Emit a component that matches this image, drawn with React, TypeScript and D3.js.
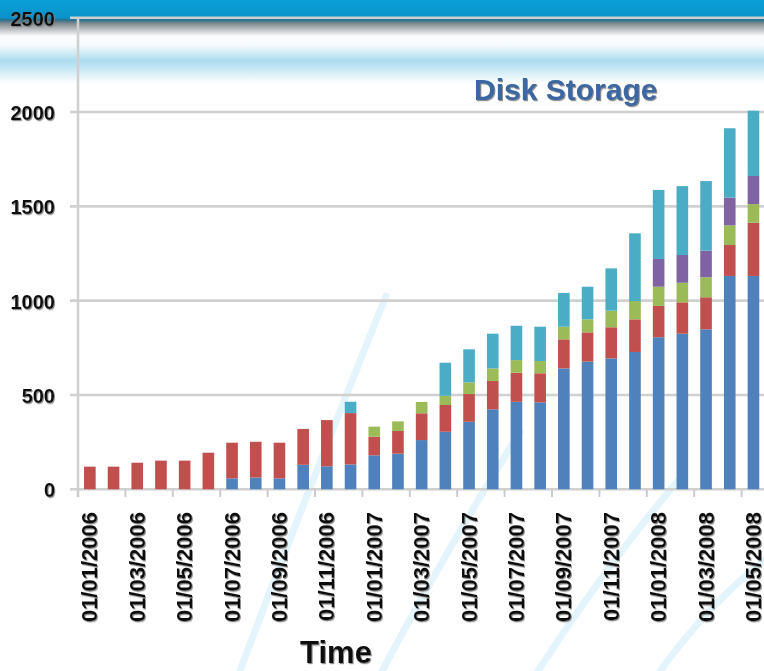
import React from "react";
import * as d3 from "d3";

// Monthly snapshot dates (dd/mm/yyyy)
const months = [
  "01/01/2006", "01/02/2006", "01/03/2006", "01/04/2006", "01/05/2006",
  "01/06/2006", "01/07/2006", "01/08/2006", "01/09/2006", "01/10/2006",
  "01/11/2006", "01/12/2006", "01/01/2007", "01/02/2007", "01/03/2007",
  "01/04/2007", "01/05/2007", "01/06/2007", "01/07/2007", "01/08/2007",
  "01/09/2007", "01/10/2007", "01/11/2007", "01/12/2007", "01/01/2008",
  "01/02/2008", "01/03/2008", "01/04/2008", "01/05/2008",
];

// Storage used per pool (stack order bottom → top)
const poolA = [0, 0, 0, 0, 0, 0, 58, 62, 58, 130, 122, 132, 180, 189, 261, 305, 358, 424, 464, 461, 641, 677, 694, 728, 806, 825, 848, 1131, 1131];
const poolB = [120, 120, 141, 152, 152, 194, 189, 190, 189, 190, 245, 272, 99, 120, 142, 142, 147, 150, 154, 154, 154, 155, 165, 173, 166, 166, 170, 164, 282];
const poolC = [0, 0, 0, 0, 0, 0, 0, 0, 0, 0, 0, 0, 53, 51, 60, 49, 62, 67, 67, 65, 67, 69, 88, 97, 102, 104, 106, 104, 99];
const poolD = [0, 0, 0, 0, 0, 0, 0, 0, 0, 0, 0, 0, 0, 0, 0, 0, 0, 0, 0, 0, 0, 0, 0, 0, 147, 147, 141, 147, 149];
const poolE = [0, 0, 0, 0, 0, 0, 0, 0, 0, 0, 0, 60, 0, 0, 0, 175, 175, 184, 182, 182, 179, 173, 224, 359, 366, 365, 369, 368, 346];

const seriesKeys = ["poolA", "poolB", "poolC", "poolD", "poolE"];
const seriesColors = ["#4F81BD", "#C0504D", "#9BBB59", "#8064A2", "#4BACC6"];

const yTicks = [0, 500, 1000, 1500, 2000, 2500];
const chartTitle = "Disk Storage";
const xTitle = "Time";

const W = 764;
const H = 671;

export default function App() {
  const table = months.map((m, i) => ({
    month: m,
    poolA: poolA[i],
    poolB: poolB[i],
    poolC: poolC[i],
    poolD: poolD[i],
    poolE: poolE[i],
  }));

  const stacked = d3.stack<any>().keys(seriesKeys)(table);

  const left = 78;
  const step = 23.7;
  const x = d3
    .scaleBand<string>()
    .domain(months)
    .range([left, left + step * months.length])
    .paddingInner(0.51)
    .paddingOuter(0.255);

  const y = d3.scaleLinear().domain([0, 2500]).range([489.3, 17.7]);

  const tickEvery = months.filter((_, i) => i % 2 === 0);

  const swooshes = [
    "M 240 671 Q 302 505 386 296",
    "M 382 671 Q 452 540 520 432",
    "M 538 671 Q 610 560 682 476",
    "M 660 671 Q 712 600 770 556",
  ];

  return (
    <svg
      width={W}
      height={H}
      viewBox={`0 0 ${W} ${H}`}
      style={{ position: "absolute", left: 0, top: 0, display: "block" }}
    >
      <defs>
        <linearGradient id="bg" x1="0" y1="0" x2="0" y2="95" gradientUnits="userSpaceOnUse">
          <stop offset="0" stopColor="#0aa0d8" />
          <stop offset="0.19" stopColor="#0a92c9" />
          <stop offset="0.21" stopColor="#2a6f88" />
          <stop offset="0.25" stopColor="#858d92" />
          <stop offset="0.38" stopColor="#fbfbfd" />
          <stop offset="0.47" stopColor="#f8fbfd" />
          <stop offset="0.64" stopColor="#abdcef" />
          <stop offset="0.71" stopColor="#c2e6f4" />
          <stop offset="0.88" stopColor="#ffffff" />
          <stop offset="1" stopColor="#ffffff" />
        </linearGradient>
        <filter id="txtShadow" x="-10%" y="-10%" width="130%" height="130%">
          <feDropShadow dx="1" dy="1.2" stdDeviation="0.7" floodColor="#7a7a7a" floodOpacity="0.85" />
        </filter>
        <filter id="soft" x="-10%" y="-10%" width="120%" height="120%">
          <feGaussianBlur stdDeviation="0.45" />
        </filter>
      </defs>

      {/* backdrop */}
      <rect x={0} y={0} width={W} height={H} fill="#ffffff" />
      <rect x={0} y={0} width={W} height={95} fill="url(#bg)" />

      {/* decorative swooshes */}
      <g fill="none" stroke="#e4f4fc" strokeLinecap="round">
        {swooshes.map((d, i) => (
          <path key={i} d={d} strokeWidth={7} />
        ))}
      </g>

      {/* gridlines */}
      <g stroke="#d0d0d0" strokeWidth={2.6}>
        {yTicks.map((t) => (
          <line key={t} x1={70} x2={W} y1={y(t)} y2={y(t)} />
        ))}
      </g>

      {/* vertical axis line */}
      <line x1={left} x2={left} y1={y(2500)} y2={497} stroke="#d0d0d0" strokeWidth={2.6} />

      {/* x ticks */}
      <g stroke="#cccccc" strokeWidth={2}>
        {d3.range(0, months.length + 1, 2).map((k) => (
          <line key={k} x1={left + step * k} x2={left + step * k} y1={489} y2={497} />
        ))}
      </g>

      {/* stacked bars */}
      <g filter="url(#soft)">
        {stacked.map((layer, si) => (
          <g key={layer.key} fill={seriesColors[si]}>
            {layer.map((d, i) =>
              d[1] - d[0] > 0 ? (
                <rect
                  key={i}
                  x={x(months[i])}
                  width={x.bandwidth()}
                  y={y(d[1])}
                  height={y(d[0]) - y(d[1])}
                />
              ) : null
            )}
          </g>
        ))}
      </g>

      {/* y labels */}
      <g
        fontFamily="'Liberation Sans', Arial, sans-serif"
        fontWeight="bold"
        fontSize={20}
        fill="#111"
        filter="url(#txtShadow)"
        textAnchor="end"
      >
        {yTicks.map((t) => (
          <text key={t} x={55} y={y(t) + 1} dominantBaseline="central">
            {t}
          </text>
        ))}
      </g>

      {/* x labels */}
      <g
        fontFamily="'Liberation Sans', Arial, sans-serif"
        fontWeight="bold"
        fontSize={22}
        fill="#111"
        filter="url(#txtShadow)"
        textAnchor="end"
      >
        {tickEvery.map((m) => (
          <text
            key={m}
            transform={`translate(${(x(m) as number) + x.bandwidth() / 2},512) rotate(-90)`}
            dominantBaseline="central"
          >
            {m}
          </text>
        ))}
      </g>

      {/* axis title */}
      <text
        x={336}
        y={663}
        textAnchor="middle"
        fontFamily="'Liberation Sans', Arial, sans-serif"
        fontWeight="bold"
        fontSize={31}
        fill="#111"
        filter="url(#txtShadow)"
      >
        {xTitle}
      </text>

      {/* chart title */}
      <text
        x={474}
        y={100}
        fontFamily="'Liberation Sans', Arial, sans-serif"
        fontWeight="bold"
        fontSize={30}
        fill="#3b67a3"
        filter="url(#txtShadow)"
      >
        {chartTitle}
      </text>
    </svg>
  );
}
